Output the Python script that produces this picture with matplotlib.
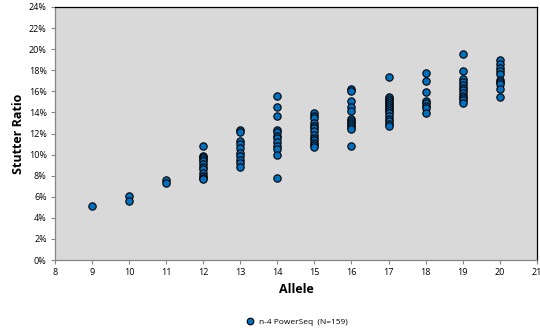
import matplotlib.pyplot as plt
from matplotlib.ticker import FuncFormatter

# stutter ratios (%) read per allele
allele_09 = [5.1]
allele_10 = [6.1, 5.6]
allele_11 = [7.6, 7.3]
allele_12 = [10.8, 9.9, 9.8, 9.6, 9.4, 9.1, 8.8, 8.6, 8.3, 8.0, 7.8, 7.7]
allele_13 = [12.3, 12.1, 11.3, 11.0, 10.6, 10.2, 9.9, 9.5, 9.2, 8.8]
allele_14 = [15.6, 14.5, 13.7, 12.3, 12.1, 11.8, 11.6, 11.2, 10.8, 10.5, 10.0, 7.8]
allele_15 = [13.9, 13.7, 13.5, 13.0, 12.7, 12.5, 12.2, 11.9, 11.6, 11.4, 11.1, 10.9, 10.7]
allele_16 = [16.2, 16.0, 15.1, 14.5, 14.1, 13.4, 13.2, 13.0, 12.8, 12.6, 12.4, 10.8]
allele_17 = [17.4, 15.5, 15.3, 15.1, 14.9, 14.7, 14.5, 14.3, 14.1, 13.9, 13.7, 13.4, 13.2, 12.9, 12.7]
allele_18 = [17.7, 17.0, 15.9, 15.1, 14.9, 14.6, 14.4, 13.9]
allele_19 = [19.5, 17.9, 17.2, 16.9, 16.6, 16.3, 16.1, 15.8, 15.6, 15.4, 15.2, 14.9]
allele_20 = [19.0, 18.6, 18.2, 17.9, 17.6, 17.1, 16.9, 16.7, 16.2, 15.5]

alleles = [9, 10, 11, 12, 13, 14, 15, 16, 17, 18, 19, 20]
ratios = [allele_09, allele_10, allele_11, allele_12, allele_13, allele_14,
          allele_15, allele_16, allele_17, allele_18, allele_19, allele_20]

x_ticks = list(range(8, 22))
y_ticks = list(range(0, 26, 2))


def main():
    plt.rcParams['font.family'] = ['Open Sans', 'DejaVu Sans']

    xs = []
    ys = []
    for a, vals in zip(alleles, ratios):
        xs += [a] * len(vals)
        ys += vals

    fig = plt.figure(figsize=(5.4, 3.33), dpi=100)
    ax = fig.add_axes([0.102, 0.219, 0.892, 0.760])
    ax.set_facecolor('#D9D9D9')

    ax.plot(xs, ys, linestyle='none', marker='o', markersize=5.3,
            markerfacecolor='#0070C0', markeredgecolor='black',
            markeredgewidth=0.8, label='n-4 PowerSeq  (N=159)')

    ax.set_xlim(8, 21)
    ax.set_ylim(0, 24)
    ax.set_xticks(x_ticks)
    ax.set_yticks(y_ticks)
    ax.yaxis.set_major_formatter(FuncFormatter(lambda v, p: f'{v:.0f}%'))
    ax.tick_params(axis='both', labelsize=6.5, length=3, color='#868686',
                   direction='out', pad=3)

    for side in ['left', 'bottom']:
        ax.spines[side].set_color('#868686')
    for side in ['top', 'right']:
        ax.spines[side].set_color('black')
    for s in ax.spines.values():
        s.set_linewidth(0.9)

    ax.set_xlabel('Allele', fontsize=9, fontweight='bold', labelpad=4)
    ax.set_ylabel('Stutter Ratio', fontsize=9, fontweight='bold', labelpad=3)

    fig.legend(loc='lower center', bbox_to_anchor=(0.545, 0.0), frameon=False,
               fontsize=6, handletextpad=0.1, markerscale=0.9)

    fig.savefig('out.png', dpi=100)


if __name__ == '__main__':
    main()
